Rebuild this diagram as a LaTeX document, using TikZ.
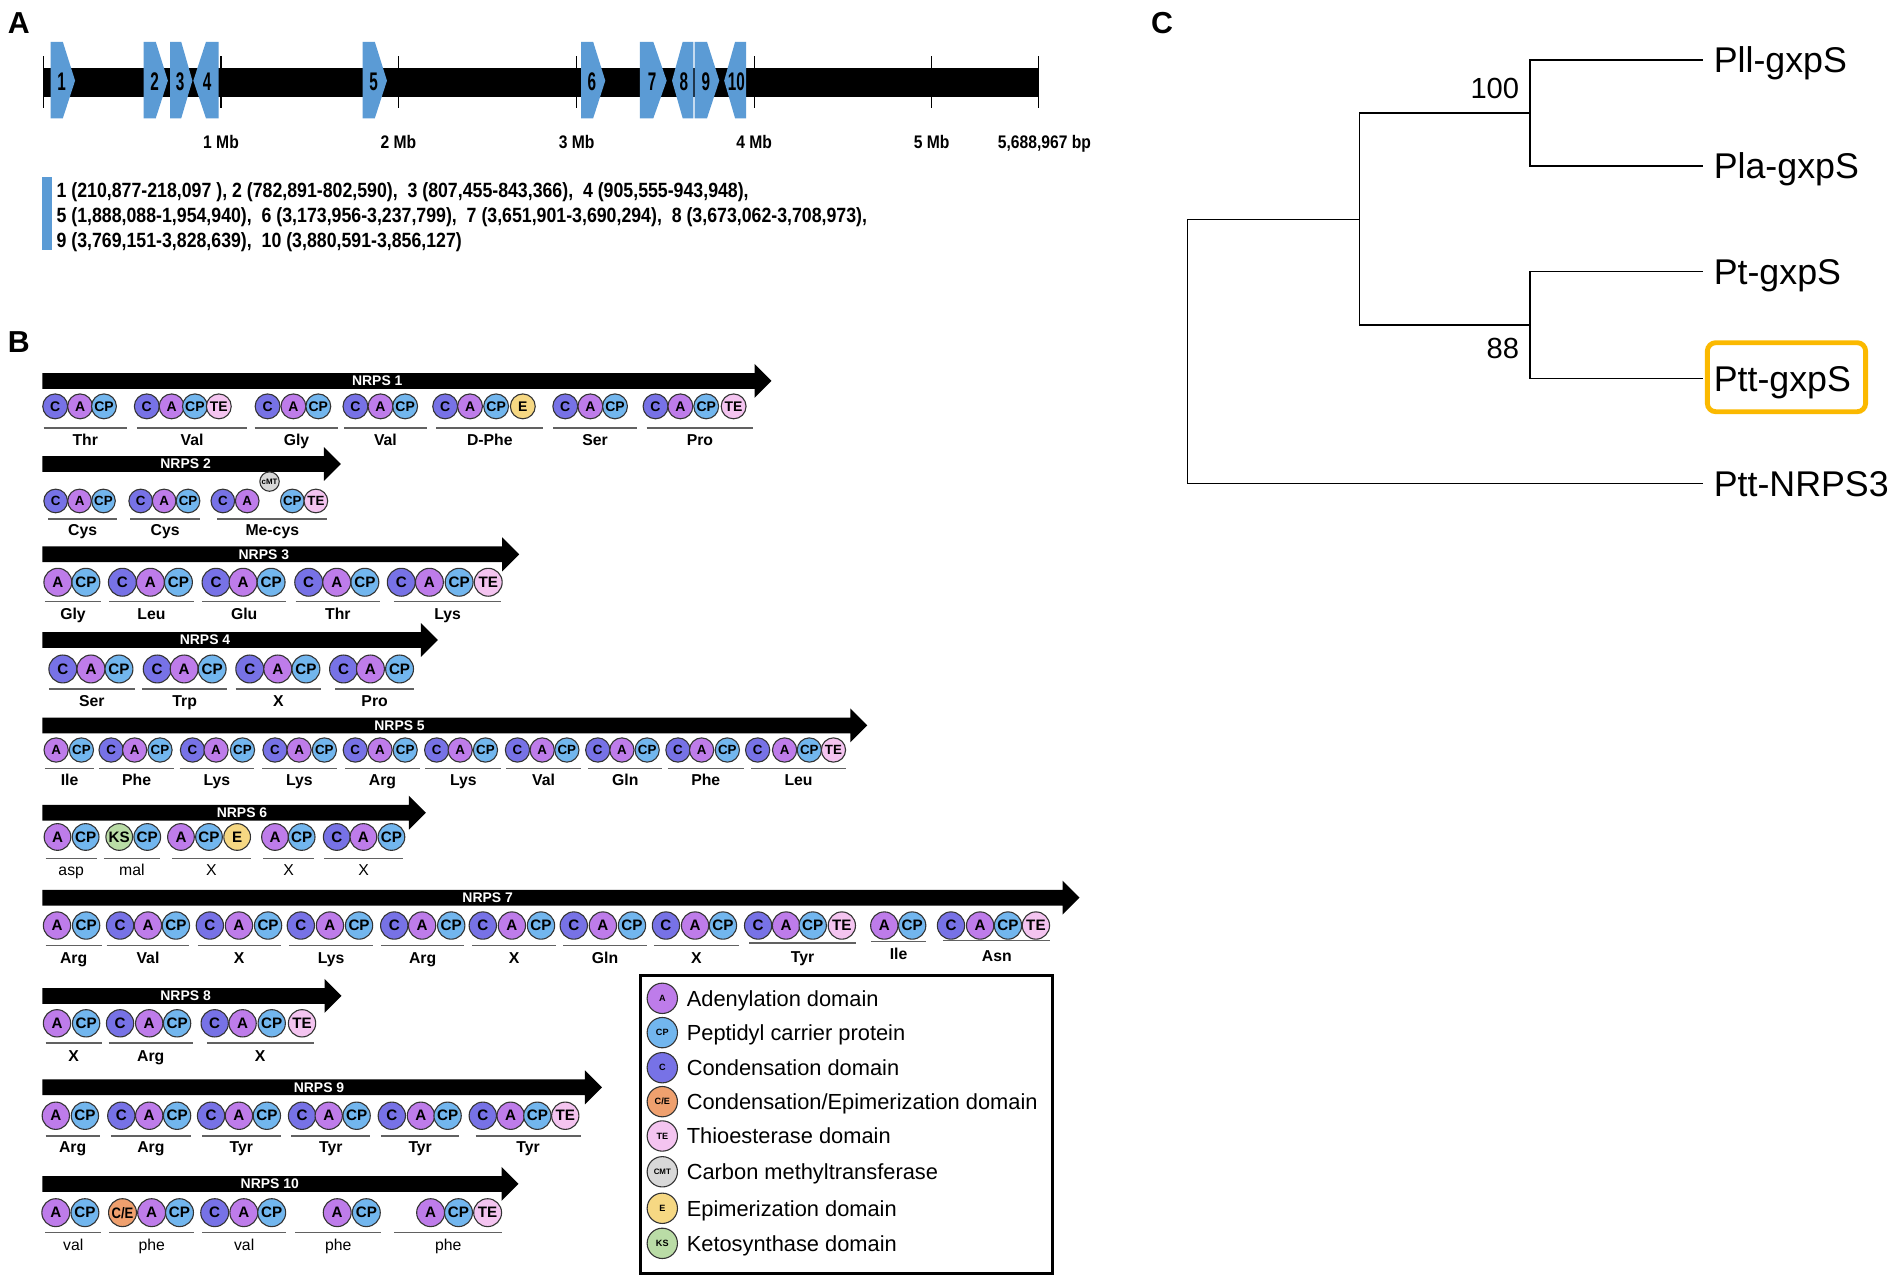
\documentclass[tikz,border=0pt]{standalone}
\usepackage{fontspec}
\setmainfont{Liberation Sans}
\newfontfamily\cond[FakeStretch=0.86]{Liberation Sans}
\newfontfamily\condd[FakeStretch=0.6]{Liberation Sans}
\definecolor{colA}{HTML}{BE7CEA}
\definecolor{colCP}{HTML}{72B6EE}
\definecolor{colC}{HTML}{7772E6}
\definecolor{colTE}{HTML}{F4C4F0}
\definecolor{colE}{HTML}{F6D883}
\definecolor{colKS}{HTML}{BADCA6}
\definecolor{colCE}{HTML}{EFA06E}
\definecolor{colCMT}{HTML}{D8D8D8}
\definecolor{genec}{HTML}{5B9BD5}
\definecolor{hlc}{HTML}{FBB900}
\newcommand\domLA{A}
\newcommand\domLCP{CP}
\newcommand\domLC{C}
\newcommand\domLTE{TE}
\newcommand\domLE{E}
\newcommand\domLKS{KS}
\newcommand\domLCE{{\cond C/E}}
\newcommand\domLCMT{CMT}
\newcount\dcnt
\tikzset{
  dom/.style={circle, draw=black!80, line width=0.9pt, inner sep=0pt},
  uline/.style={draw=black!62, line width=1.3pt},
  blab/.style={font=\bfseries\fontsize{13}{13}\selectfont, inner sep=0pt, text height=9.3pt, text depth=0pt},
  rlab/.style={font=\fontsize{13}{13}\selectfont, inner sep=0pt, text height=9.3pt, text depth=0pt},
  nlab/.style={font=\bfseries\fontsize{11.5}{11.5}\selectfont, text=white, inner sep=0pt, text height=8.2pt, text depth=0pt},
  plab/.style={font=\bfseries\fontsize{25}{25}\selectfont, inner sep=0pt, text height=17.9pt, text depth=0pt},
  gnum/.style={font=\condd\bfseries\fontsize{21}{21}\selectfont, inner sep=0pt, text height=15pt, text depth=0pt},
  tlab/.style={font=\cond\bfseries\fontsize{15}{15}\selectfont, inner sep=0pt, text height=10.7pt, text depth=0pt},
  atext/.style={font=\cond\bfseries\fontsize{17}{17}\selectfont, inner sep=0pt, text height=12.2pt, text depth=0pt, anchor=west},
  leaf/.style={font=\fontsize{29.5}{29.5}\selectfont, anchor=west, inner xsep=9pt, inner ysep=0pt, text height=21.1pt, text depth=0pt},
  boot/.style={font=\fontsize{24}{24}\selectfont, anchor=east, inner sep=0pt, text height=17.2pt, text depth=0pt},
  tree/.style={line width=1.2pt},
  legtext/.style={font=\fontsize{18}{18}\selectfont, anchor=west, inner sep=0pt, text height=12.9pt, text depth=0pt},
}
\newcommand\domrow[4]{%
  \foreach \dx/\dt in {#4}{%
    \global\advance\dcnt by 1
    \node[dom, minimum size=#2pt, fill=col\dt, font=\bfseries\fontsize{#3}{#3}\selectfont] (dom\the\dcnt) at (\dx,#1) {\csname domL\dt\endcsname};
  }}
\newcommand\labrow[4]{%
  \foreach \ua/\ub/\ut in {#4}{%
    \global\advance\dcnt by 1
    \draw[uline] (\ua,#1) -- (\ub,#1);
    \node[#3] (lab\the\dcnt) at ({(\ua+\ub)/2},#2) {\ut};
  }}
\newcommand\nrps[4]{%
  \global\advance\dcnt by 1
  \fill (35,#1-6.5) -- (#2-14,#1-6.5) -- (#2-14,#1-14) -- (#2,#1) -- (#2-14,#1+14) -- (#2-14,#1+6.5) -- (35,#1+6.5) -- cycle;
  \node[nlab] (nrps\the\dcnt) at (#3,#1) {#4};}
\newcommand\gener[3]{%
  \fill[genec] (#1,34.5) -- ({(#1+#2)/2},34.5) -- (#2,66.5) -- ({(#1+#2)/2},97.5) -- (#1,97.5) -- cycle;
  \node[gnum] (gene#3) at ({(#1+#2)/2-1},67) {#3};}
\newcommand\genel[3]{%
  \fill[genec] (#2,34.5) -- ({(#1+#2)/2},34.5) -- (#1,66.5) -- ({(#1+#2)/2},97.5) -- (#2,97.5) -- cycle;
  \node[gnum] (gene#3) at ({(#1+#2)/2+1},67) {#3};}
\begin{document}
\begin{tikzpicture}[x=1pt,y=-1pt]
\fill[white] (0,0) rectangle (1568,1055);
\useasboundingbox (0,0) rectangle (1568,1055);
% ---------- Panel A ----------
\node[plab] (pA) at (15.5,18.5) {A};
\fill (36,56) rectangle (856,80);
\foreach \x in {35.9,182.2,328.5,475.4,621.7,768,855.9}
  \draw[line width=0.9pt] (\x,46.5) -- (\x,89);
\foreach \x/\t [count=\i] in {182.2/1 Mb,328.5/2 Mb,475.4/3 Mb,621.7/4 Mb,768/5 Mb,861/{5,688,967 bp}}
  \node[tlab] (tick\i) at (\x,117) {\t};
\gener{41.7}{61.9}{1}
\gener{118.4}{138.4}{2}
\gener{140.2}{158.6}{3}
\genel{159.4}{180.2}{4}
\gener{299}{319}{5}
\gener{479}{499}{6}
\gener{527.6}{549.6}{7}
\genel{554}{571.6}{8}
\gener{572.7}{593}{9}
\genel{597}{615}{10}
\fill[genec] (35,146) rectangle (43,206);
\node[atext] (al1) at (46.5,157) {1 (210,877-218,097 ), 2 (782,891-802,590),\ \ 3 (807,455-843,366),\ \ 4 (905,555-943,948),};
\node[atext] (al2) at (46.5,177.5) {5 (1,888,088-1,954,940),\ \ 6 (3,173,956-3,237,799),\ \ 7 (3,651,901-3,690,294),\ \ 8 (3,673,062-3,708,973),};
\node[atext] (al3) at (46.5,198) {9 (3,769,151-3,828,639),\ \ 10 (3,880,591-3,856,127)};
% ---------- Panel B ----------
\node[plab] (pB) at (15.5,281.5) {B};
% NRPS 1
\nrps{314}{636}{311}{NRPS 1}
\domrow{335}{20.5}{11.5}{45.5/C,66/A,85.7/CP,121/C,141.5/A,160.7/CP,180.4/TE,220.6/C,241.9/A,262.4/CP,293/C,313.7/A,334/CP,367/C,387.5/A,409/CP,431/E,466/C,486.7/A,507/CP,540.4/C,560.9/A,582.2/CP,604.8/TE}
\labrow{353}{363}{blab}{36/104.5/Thr,112.8/203.8/Val,210/278.8/Gly,283.7/351.8/Val,359.6/448/D-Phe,456/525/Ser,533/621/Pro}
% NRPS 2
\nrps{382.5}{281}{153}{NRPS 2}
\domrow{413}{19.5}{11}{45.9/C,65.6/A,85.3/CP,116/C,135.3/A,155/CP,183.7/C,203.8/A,241/CP,260.4/TE}
\node[dom, minimum size=16pt, fill=colCMT, font=\bfseries\fontsize{6.5}{6.5}\selectfont] (cmt) at (222.2,397) {cMT};
\labrow{428}{437}{blab}{39.8/96.4/Cys,107.4/164.8/Cys,179.2/269.8/Me-cys}
% NRPS 3
\nrps{457}{428}{217.5}{NRPS 3}
\domrow{480}{23}{12.5}{47.7/A,70.8/CP,100.9/C,124/A,147.1/CP,178.1/C,200.4/A,223.5/CP,254.5/C,277.6/A,300.8/CP,330.8/C,354/A,378.5/CP,402.5/TE}
\labrow{496}{506}{blab}{37/83.3/Gly,90.2/159.6/Leu,166.6/236/Glu,243.8/313.2/Thr,324.8/413.2/Lys}
% NRPS 4
\nrps{527.6}{361}{169}{NRPS 4}
\domrow{551.5}{23}{12.5}{51.8/C,75/A,98.1/CP,129.6/C,151.8/A,174.9/CP,205.9/C,229/A,252.2/CP,283.2/C,305.4/A,329.4/CP}
\labrow{568}{577.6}{blab}{40.3/111/Ser,117/187.4/Trp,194.3/264.7/X,276.2/341.5/Pro}
% NRPS 5
\nrps{598}{715}{329.4}{NRPS 5}
\domrow{618.3}{20}{11}{46.3/A,67.1/CP,91.6/C,111/A,131.9/CP,158.7/C,178.1/A,199.9/CP,226.7/C,246.6/A,267.4/CP,292.9/C,313.3/A,334/CP,360/C,379.4/A,400.2/CP,426.6/C,447/A,467.3/CP,492.8/C,512.7/A,533.5/CP,558.9/C,578.4/A,599.6/CP,624.6/C,646.8/A,667.2/CP,687.1/TE}
\labrow{633.4}{642.5}{blab}{37/77.7/Ile,81.9/143.4/Phe,148/209.6/Lys,216/277.6/Lys,284.6/346/Arg,350.7/413.2/Lys,417.3/478.9/Val,484.9/546/Gln,550.6/613/Phe,619/697.7/Leu}
% NRPS 6
\nrps{670}{351}{199.5}{NRPS 6}
\domrow{690}{22}{12.5}{47.4/A,70.6/CP,98.3/KS,121.4/CP,149.2/A,172.3/CP,195.5/E,226.7/A,248.7/CP,277.6/C,299.6/A,322.7/CP}
\labrow{707.6}{717}{rlab}{37.6/79.8/asp,85.6/131.9/mal,141.7/207/X,216.9/259/X,267.2/332.5/X}
% NRPS 7
\nrps{740}{890}{402}{NRPS 7}
\domrow{763}{22.5}{12.5}{47/A,71/CP,99/C,122/A,145/CP,173/C,197/A,221/CP,248/C,272/A,296/CP,325/C,348/A,372/CP,398/C,422/A,446/CP,473/C,497/A,521/CP,549/C,573/A,596/CP,625/C,648/A,670/CP,694/TE,729/A,752/CP,784/C,808/A,831/CP,854/TE}
\labrow{779.6}{790}{blab}{37.6/83.9/Arg,87.9/156.1/Val,163.1/231.3/X,238.3/307.7/Lys,314/382.8/Arg,389.2/458.6/X,464.4/533.2/Gln,539/609/X}
\labrow{777.5}{789}{blab}{617.6/705.5/Tyr}
\labrow{776}{786}{blab}{718.3/763.3/Ile}
\labrow{775.5}{788}{blab}{777.8/865.7/Asn}
% NRPS 8
\nrps{821}{281.6}{153}{NRPS 8}
\domrow{843.6}{22.5}{12.5}{47/A,71/CP,99/C,123/A,146/CP,177/C,200/A,224/CP,249/TE}
\labrow{859.6}{870.6}{blab}{37.6/83.9/X,89.6/159/Arg,170.6/258.5/X}
% NRPS 9
\nrps{896.4}{496.2}{263}{NRPS 9}
\domrow{919.8}{22.5}{12.5}{46/A,70/CP,100/C,123/A,146/CP,174/C,197/A,220/CP,249/C,271/A,294/CP,323/C,347/A,369/CP,398/C,421/A,443/CP,466/TE}
\labrow{936.3}{945.3}{blab}{37.6/82.1/Arg,91.4/157.3/Arg,166.6/231.3/Tyr,240/305.3/Tyr,314/378.8/Tyr,392/478.8/Tyr}
% NRPS 10
\nrps{976}{427.5}{222.4}{NRPS 10}
\domrow{999.7}{23}{12.5}{46/A,70/CP,101/CE,125/A,148/CP,177/C,201/A,224/CP,278/A,302/CP,355/A,378/CP,402/TE}
\labrow{1016}{1026.4}{rlab}{37.2/83.6/val,90/160.3/phe,166.6/236/val,243.6/314/phe,325/414/phe}
% Legend
\node[draw, line width=2.5pt, inner sep=0pt, minimum width=339.5pt, minimum height=245.7pt, anchor=north west] (legend) at (527,803) {};
\node[dom, minimum size=25pt, fill=colA, font=\bfseries\fontsize{7.5}{7.5}\selectfont] (lgA) at (546,823) {A};
\node[legtext] (ltA) at (566,823) {Adenylation domain};
\node[dom, minimum size=25pt, fill=colCP, font=\bfseries\fontsize{7.5}{7.5}\selectfont] (lgCP) at (546,851.3) {CP};
\node[legtext] (ltCP) at (566,851.3) {Peptidyl carrier protein};
\node[dom, minimum size=25pt, fill=colC, font=\bfseries\fontsize{7.5}{7.5}\selectfont] (lgC) at (546,880.2) {C};
\node[legtext] (ltC) at (566,880.2) {Condensation domain};
\node[dom, minimum size=25pt, fill=colCE, font=\bfseries\fontsize{7.5}{7.5}\selectfont] (lgCE) at (546,908.2) {C/E};
\node[legtext] (ltCE) at (566,908.2) {Condensation/Epimerization domain};
\node[dom, minimum size=25pt, fill=colTE, font=\bfseries\fontsize{7.5}{7.5}\selectfont] (lgTE) at (546,936.5) {TE};
\node[legtext] (ltTE) at (566,936.5) {Thioesterase domain};
\node[dom, minimum size=25pt, fill=colCMT, font=\bfseries\fontsize{6.5}{6.5}\selectfont] (lgCMT) at (546,966) {CMT};
\node[legtext] (ltCMT) at (566,966) {Carbon methyltransferase};
\node[dom, minimum size=25pt, fill=colE, font=\bfseries\fontsize{7.5}{7.5}\selectfont] (lgE) at (546,996.1) {E};
\node[legtext] (ltE) at (566,996.1) {Epimerization domain};
\node[dom, minimum size=25pt, fill=colKS, font=\bfseries\fontsize{7.5}{7.5}\selectfont] (lgKS) at (546,1025) {KS};
\node[legtext] (ltKS) at (566,1025) {Ketosynthase domain};
% ---------- Panel C ----------
\node[plab] (pC) at (958,18.5) {C};
\coordinate (root) at (979,180.8);
\coordinate (n1) at (1120.9,180.8);
\coordinate (n2) at (1261.2,93.2);
\coordinate (n3) at (1261.2,268);
\node[leaf] (pll) at (1403.6,49.5) {Pll-gxpS};
\node[leaf] (pla) at (1403.6,136.9) {Pla-gxpS};
\node[leaf] (pt) at (1403.6,224) {Pt-gxpS};
\node[leaf] (ptt) at (1403.6,311.9) {Ptt-gxpS};
\node[leaf] (nrps3) at (1403.6,398.5) {Ptt-NRPS3};
\draw[tree] (root) -- (n1);
\draw[tree] (root) |- (nrps3.west);
\draw[tree] (n1) |- (n2);
\draw[tree] (n1) |- (n3);
\draw[tree] (n2) |- (pll.west);
\draw[tree] (n2) |- (pla.west);
\draw[tree] (n3) |- (pt.west);
\draw[tree] (n3) |- (ptt.west);
\node[boot] (b100) at (1252.5,72.8) {100};
\node[boot] (b88) at (1252.5,287) {88};
\draw[draw=hlc, line width=4pt, rounded corners=7pt] (1407.5,282.5) rectangle (1538,339.4);
\end{tikzpicture}
\end{document}
